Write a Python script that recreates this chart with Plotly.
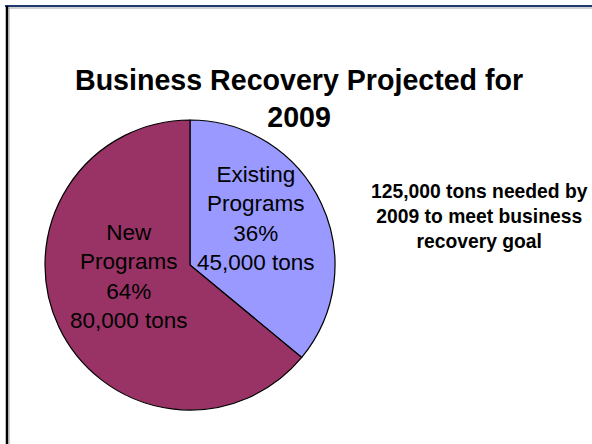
import plotly.graph_objects as go

# Data
labels = ["Existing<br>Programs", "New<br>Programs"]
values = [45000, 80000]
colors = ["#9999FF", "#993366"]
title_text = "Business Recovery Projected for<br>2009"
note_text = "125,000 tons needed by<br>2009 to meet business<br>recovery goal"

W, H = 592, 444
total = sum(values)

fig = go.Figure()
fig.add_trace(go.Pie(
    labels=labels,
    values=values,
    marker=dict(colors=colors, line=dict(color="black", width=1.2)),
    sort=False,
    direction="clockwise",
    rotation=0,
    textinfo="none",
    hoverinfo="label+value+percent",
    showlegend=False,
    domain=dict(x=[45 / W, 335 / W], y=[34 / H, 324 / H]),
))

def px(x):
    return x / W

def py(y):
    return (H - y) / H

font_family = "Liberation Sans, Arial, sans-serif"

# Slice labels built from data
label_pos = [(256, 219), (129, 276)]
annotations = []
for lab, val, (lx, ly) in zip(labels, values, label_pos):
    pct = round(val / total * 100)
    annotations.append(dict(
        text=f"{lab}<br>{pct}%<br>{val:,} tons",
        x=px(lx), y=py(ly), xref="paper", yref="paper",
        xanchor="center", yanchor="middle", showarrow=False,
        font=dict(family=font_family, size=22.5, color="black"),
        align="center",
    ))

annotations.append(dict(
    text=f"<b>{title_text}</b>",
    x=px(298.5), y=py(98.5), xref="paper", yref="paper",
    xanchor="center", yanchor="middle", showarrow=False,
    font=dict(family=font_family, size=28.6, color="black"),
    align="center",
))
annotations.append(dict(
    text=f"<b>{note_text}</b>",
    x=px(479), y=py(216), xref="paper", yref="paper",
    xanchor="center", yanchor="middle", showarrow=False,
    font=dict(family=font_family, size=19.3, color="black"),
    align="center",
))

shapes = [
    dict(type="line", xref="paper", yref="paper", x0=px(5), x1=1.0, y0=py(6), y1=py(6),
         line=dict(color="#1F3A6E", width=2)),
    dict(type="line", xref="paper", yref="paper", x0=px(8), x1=1.0, y0=py(8), y1=py(8),
         line=dict(color="#A0A0A0", width=1)),
    dict(type="line", xref="paper", yref="paper", x0=px(7), x1=px(7), y0=py(6), y1=0,
         line=dict(color="black", width=2.5)),
    dict(type="line", xref="paper", yref="paper", x0=px(9), x1=px(9), y0=py(8), y1=0,
         line=dict(color="#A0A0A0", width=1)),
]

fig.update_layout(
    width=W, height=H,
    margin=dict(l=0, r=0, t=0, b=0),
    paper_bgcolor="white",
    plot_bgcolor="white",
    annotations=annotations,
    shapes=shapes,
)

fig.write_html(
    "out.html",
    config={"displayModeBar": False},
    post_script="document.body.style.margin='0';document.body.style.overflow='hidden';",
)
